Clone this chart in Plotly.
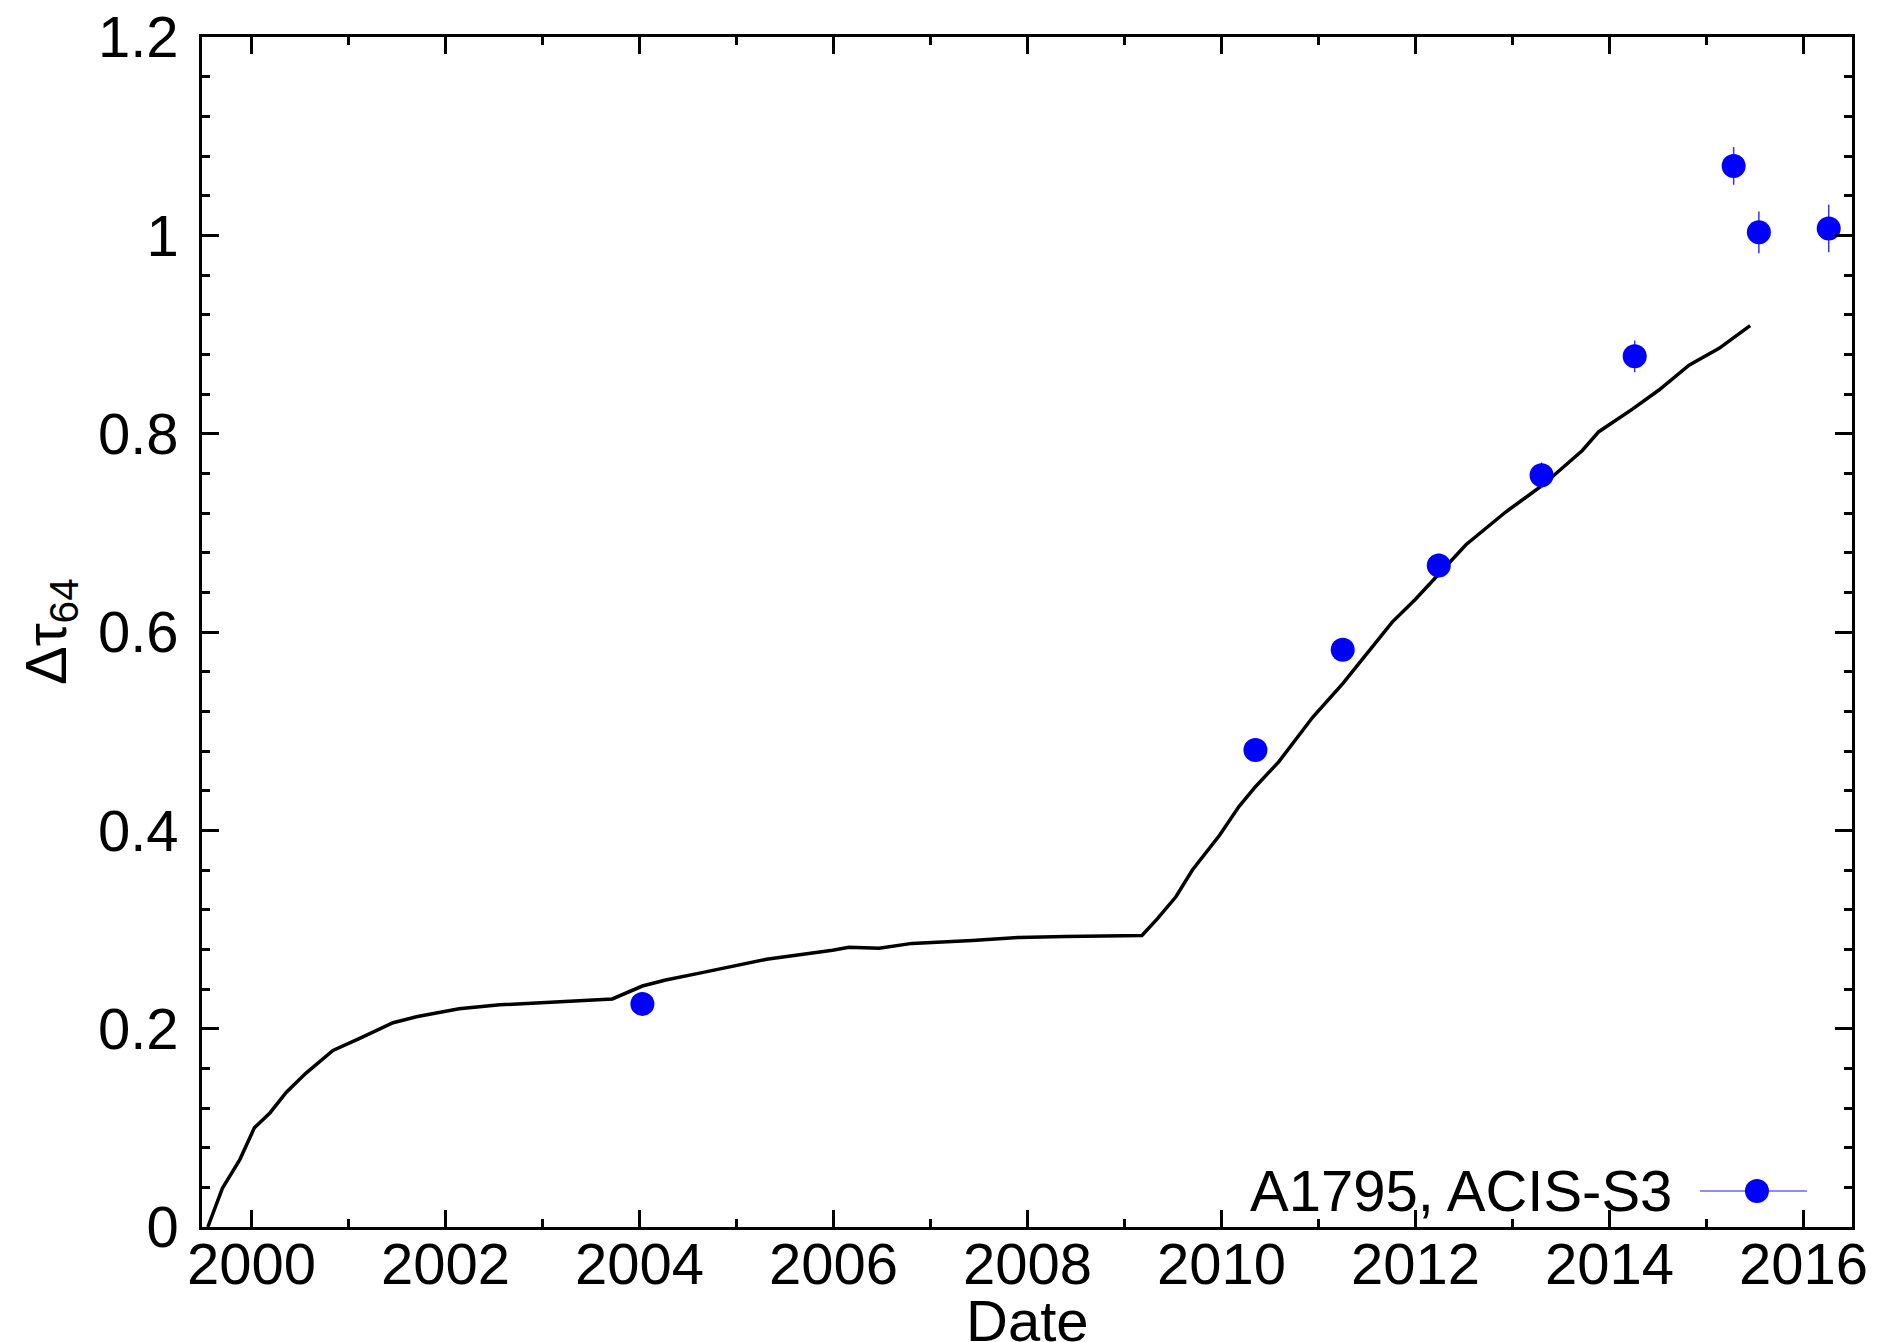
import plotly.graph_objects as go

# Model curve: predicted optical-depth increase vs. time
model_date = [1999.55, 1999.70, 1999.88, 2000.03, 2000.19, 2000.36, 2000.56, 2000.84,
              2001.11, 2001.46, 2001.70, 2002.14, 2002.56, 2003.24, 2003.72, 2004.03,
              2004.27, 2004.62, 2005.31, 2005.99, 2006.16, 2006.47, 2006.81, 2007.43,
              2007.91, 2008.39, 2009.18, 2009.34, 2009.53, 2009.70, 2009.98, 2010.18,
              2010.35, 2010.59, 2010.94, 2011.25, 2011.45, 2011.76, 2012.00, 2012.52,
              2012.93, 2013.31, 2013.72, 2013.89, 2014.24, 2014.51, 2014.82, 2015.13,
              2015.45]
model_tau = [0.000, 0.039, 0.068, 0.100, 0.115, 0.136, 0.155, 0.178,
             0.190, 0.206, 0.212, 0.220, 0.224, 0.228, 0.230, 0.243,
             0.249, 0.256, 0.270, 0.279, 0.282, 0.281, 0.286, 0.289,
             0.292, 0.293, 0.294, 0.311, 0.333, 0.360, 0.395, 0.424,
             0.444, 0.469, 0.514, 0.548, 0.572, 0.610, 0.633, 0.688,
             0.721, 0.748, 0.783, 0.802, 0.825, 0.844, 0.869, 0.886,
             0.909]

# A1795 measurements with ACIS-S3
obs_date = [2004.03, 2010.35, 2011.25, 2012.24, 2013.30, 2014.26, 2015.28, 2015.54, 2016.26]
obs_tau = [0.225, 0.481, 0.582, 0.667, 0.758, 0.878, 1.070, 1.003, 1.007]
obs_err = [0.008, 0.009, 0.010, 0.012, 0.013, 0.016, 0.019, 0.021, 0.024]

x_ticks = [2000, 2002, 2004, 2006, 2008, 2010, 2012, 2014, 2016]
y_ticks = [0, 0.2, 0.4, 0.6, 0.8, 1.0, 1.2]
y_labels = ["0", "0.2", "0.4", "0.6", "0.8", "1", "1.2"]
legend_label = "A1795, ACIS-S3"
x_title = "Date"
y_title = "Δτ<sub>64</sub>"

FONT = "Liberation Sans, Arial, Helvetica, sans-serif"
FS = 58

fig = go.Figure()
fig.add_trace(go.Scatter(
    x=model_date, y=model_tau, mode="lines",
    line=dict(color="black", width=3.5), showlegend=False, hoverinfo="skip"))
fig.add_trace(go.Scatter(
    x=obs_date, y=obs_tau, mode="markers",
    marker=dict(color="#0000ff", size=24, line=dict(width=0)),
    error_y=dict(type="data", array=obs_err, color="#3333ff", thickness=1.5, width=0),
    showlegend=False, name=legend_label))

axis_common = dict(
    showgrid=False, zeroline=False, showline=True, linecolor="black", linewidth=2.5,
    mirror="allticks", ticks="inside", tickcolor="black", tickwidth=2.5,
    tickfont=dict(family=FONT, size=FS, color="black"),
)

fig.update_xaxes(
    range=[1999.49, 2016.5], tickmode="array", tickvals=x_ticks,
    ticktext=[str(v) for v in x_ticks], ticklen=17, ticklabelstandoff=-15,
    minor=dict(ticks="inside", dtick=1, tick0=1999, ticklen=8, tickwidth=2.5, tickcolor="black"),
    **axis_common)
fig.update_yaxes(
    range=[0, 1.2], tickmode="array", tickvals=y_ticks, ticktext=y_labels, ticklen=17,
    ticklabelstandoff=9,
    minor=dict(ticks="inside", dtick=0.04, tick0=0, ticklen=8, tickwidth=2.5, tickcolor="black"),
    **axis_common)

# Axis titles
fig.add_annotation(
    xref="paper", yref="paper", x=0.5, y=-0.0496, xanchor="center", yanchor="top",
    text=x_title, showarrow=False, font=dict(family=FONT, size=FS, color="black"))
fig.add_annotation(
    xref="paper", yref="paper", x=-0.0921, y=0.5, xanchor="center", yanchor="middle",
    text=y_title, textangle=-90, showarrow=False,
    font=dict(family=FONT, size=FS, color="black"))

# Legend entry: label on the left, errorbar sample with marker on the right
fig.add_annotation(
    xref="paper", yref="paper", x=0.892, y=0.031, xanchor="right", yanchor="middle",
    text=legend_label, showarrow=False, font=dict(family=FONT, size=FS, color="black"))
fig.add_shape(type="line", xref="paper", yref="paper", x0=0.9079, x1=0.9727,
              y0=0.0303, y1=0.0303, line=dict(color="#6666ff", width=1.5))
fig.add_shape(type="circle", xref="paper", yref="paper",
              xsizemode="pixel", ysizemode="pixel", xanchor=0.9424, yanchor=0.0303,
              x0=-12, x1=12, y0=-12, y1=12,
              fillcolor="#0000ff", line=dict(width=0))

fig.update_layout(
    width=1886, height=1342,
    margin=dict(l=202, r=34, t=37, b=115, autoexpand=False),
    paper_bgcolor="white", plot_bgcolor="white",
    font=dict(family=FONT, size=FS, color="black"),
)

fig.write_html("out.html")
